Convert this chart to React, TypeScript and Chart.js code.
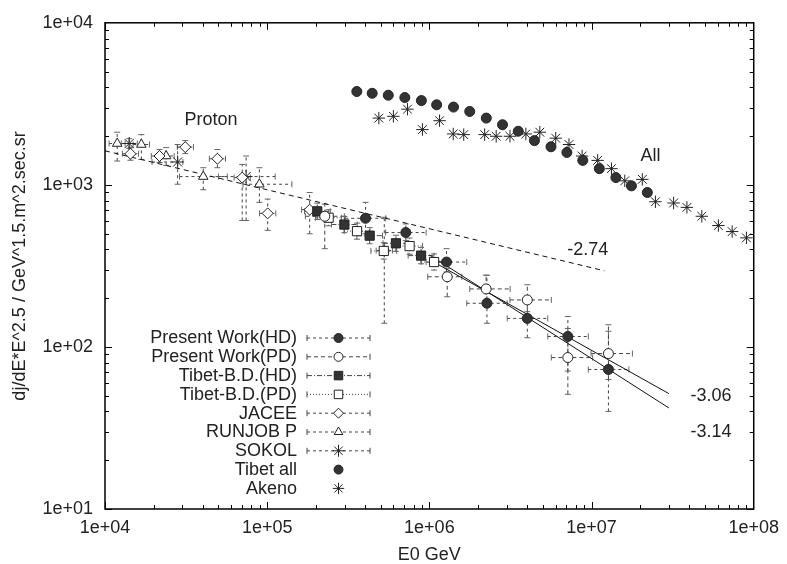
import React, { useEffect, useRef } from 'react';
import { Chart, registerables } from 'chart.js';
import { drawPoint } from 'chart.js/helpers';

Chart.register(...registerables);

// ---------- axis ticks ----------
const xTickValues = [1e4, 1e5, 1e6, 1e7, 1e8];
const xTickLabels = ['1e+04', '1e+05', '1e+06', '1e+07', '1e+08'];
const yTickValues = [1e1, 1e2, 1e3, 1e4];
const yTickLabels = ['1e+01', '1e+02', '1e+03', '1e+04'];

// ---------- Present Work (HD) ----------
const pwHdX = [4.04e5, 7.16e5, 1.276e6, 2.265e6, 4.018e6, 7.145e6, 1.271e7];
const pwHdY = [622, 508, 334, 186, 150, 116, 72.6];
const pwHdXLo = [3.03e5, 5.37e5, 9.55e5, 1.70e6, 3.02e6, 5.37e6, 9.55e6];
const pwHdXHi = [5.38e5, 9.55e5, 1.70e6, 3.02e6, 5.37e6, 9.55e6, 1.70e7];
const pwHdYLo = [499, 454, 290, 140, 114, 71, 40];
const pwHdYHi = [780, 574, 404, 277, 190, 154, 125];

// ---------- Present Work (PD) ----------
const pwPdX = [2.265e5, 1.288e6, 2.239e6, 4.018e6, 7.145e6, 1.271e7];
const pwPdY = [640, 271, 228, 195, 86, 91];
const pwPdXLo = [1.72e5, 9.77e5, 1.774e6, 3.14e6, 5.65e6, 9.93e6];
const pwPdXHi = [2.99e5, 1.585e6, 3.148e6, 5.65e6, 1.016e7, 1.786e7];
const pwPdYLo = [404, 204, 190, 165, 51, 63];
const pwPdYHi = [760, 304, 277, 242, 130, 137];

// ---------- Tibet-B.D. (HD) ----------
const bdHdX = [2.037e5, 2.992e5, 4.285e5, 6.223e5, 8.89e5];
const bdHdY = [687, 569, 486, 436, 366];
const bdHdXLo = [1.70e5, 2.49e5, 3.57e5, 5.18e5, 7.40e5];
const bdHdXHi = [2.45e5, 3.59e5, 5.14e5, 7.47e5, 1.067e6];
const bdHdYLo = [612, 507, 433, 389, 326];
const bdHdYHi = [771, 638, 545, 489, 411];

// ---------- Tibet-B.D. (PD) ----------
const bdPdX = [2.393e5, 3.581e5, 5.236e5, 7.551e5, 1.069e6];
const bdPdY = [627, 518, 391, 419, 334];
const bdPdXLo = [1.99e5, 2.98e5, 4.36e5, 6.28e5, 8.90e5];
const bdPdXHi = [2.87e5, 4.30e5, 6.29e5, 9.07e5, 1.283e6];
const bdPdYLo = [559, 462, 348, 373, 298];
const bdPdYHi = [703, 581, 439, 470, 375];

// ---------- JACEE ----------
const jaceeX = [1.435e4, 2.168e4, 3.126e4, 4.932e4, 7.015e4, 1.007e5, 1.828e5, 5.272e5];
const jaceeY = [1556, 1507, 1710, 1449, 1109, 667, 703, 393];
const jaceeXLo = [1.28e4, 1.93e4, 2.79e4, 4.40e4, 6.25e4, 8.97e4, 1.63e5, 4.70e5];
const jaceeXHi = [1.61e4, 2.43e4, 3.51e4, 5.53e4, 7.87e4, 1.13e5, 2.05e5, 5.92e5];
const jaceeYLo = [1419, 1374, 1559, 1276, 603, 524, 499, 140];
const jaceeYHi = [1706, 1652, 1875, 1652, 1337, 817, 897, 631];

// ---------- RUNJOB P ----------
const runjobX = [1.189e4, 1.675e4, 2.382e4, 4.036e4, 8.954e4];
const runjobY = [1799, 1774, 1507, 1125, 1009];
const runjobXLo = [1.06e4, 1.49e4, 2.12e4, 2.88e4, 7.10e4];
const runjobXHi = [1.33e4, 1.88e4, 2.67e4, 5.68e4, 1.42e5];
const runjobYLo = [1403, 1435, 1318, 933, 780];
const runjobYHi = [2113, 2042, 1698, 1276, 1276];

// ---------- SOKOL ----------
const sokolX = [1.409e4, 2.805e4, 7.413e4];
const sokolY = [1799, 1384, 1125];
const sokolXLo = [1.26e4, 1.95e4, 5.01e4];
const sokolXHi = [1.58e4, 3.02e4, 1.12e5];
const sokolYLo = [1679, 1009, 603];
const sokolYHi = [1928, 1774, 1507];

// ---------- Tibet all ----------
const tibetAllX = [3.57e5, 4.44e5, 5.58e5, 7.06e5, 8.93e5, 1.109e6, 1.409e6, 1.774e6, 2.244e6, 2.825e6,
  3.532e6, 4.446e6, 5.623e6, 7.047e6, 8.831e6, 1.117e7, 1.413e7, 1.762e7, 2.208e7];
const tibetAllY = [3767, 3673, 3573, 3459, 3311, 3119, 3020, 2838, 2582, 2350,
  2143, 1875, 1718, 1585, 1416, 1259, 1109, 986, 897];

// ---------- Akeno ----------
const akenoX = [4.88e5, 6.0e5, 7.33e5, 9.06e5, 1.156e6, 1.403e6, 1.629e6, 2.193e6, 2.582e6, 3.141e6,
  3.936e6, 4.797e6, 6.012e6, 7.261e6, 8.75e6, 1.091e7, 1.327e7, 1.603e7, 2.056e7, 2.477e7,
  3.206e7, 3.873e7, 4.786e7, 6.053e7, 7.362e7, 9.016e7];
const akenoY = [2582, 2649, 2931, 2193, 2489, 2061, 2042, 2042, 1995, 1995,
  2061, 2113, 1941, 1774, 1507, 1416, 1259, 1059, 1081, 787,
  773, 726, 640, 561, 515, 471];

// ---------- power-law fit lines ----------
const fit274X = [1e4, 1.2e7];
const fit274Y = [1622, 295];
const fit306X = [1e6, 3e7];
const fit306Y = [346, 51.5];
const fit314X = [1e6, 3e7];
const fit314Y = [370, 42.0];

// ---------- text labels (data coordinates) ----------
const noteText = ['Proton', 'All', '-2.74', '-3.06', '-3.14'];
const noteX = [4.5e4, 2.31e7, 9.48e6, 5.46e7, 5.46e7];
const noteY = [2500, 1514, 394, 49.9, 29.7];

const FONT = '"Liberation Sans", Arial, sans-serif';
const FS = 18;
const INK = '#222';
const FILL = '#333';

type Series = {
  label: string;
  x: number[];
  y: number[];
  xlo?: number[];
  xhi?: number[];
  ylo?: number[];
  yhi?: number[];
  style: string;
  filled: boolean;
  r: number;
  dash?: number[];
};

const series: Series[] = [
  { label: 'Present Work(HD)', x: pwHdX, y: pwHdY, xlo: pwHdXLo, xhi: pwHdXHi, ylo: pwHdYLo, yhi: pwHdYHi, style: 'circle', filled: true, r: 5, dash: [3, 3] },
  { label: 'Present Work(PD)', x: pwPdX, y: pwPdY, xlo: pwPdXLo, xhi: pwPdXHi, ylo: pwPdYLo, yhi: pwPdYHi, style: 'circle', filled: false, r: 5, dash: [4, 3] },
  { label: 'Tibet-B.D.(HD)', x: bdHdX, y: bdHdY, xlo: bdHdXLo, xhi: bdHdXHi, ylo: bdHdYLo, yhi: bdHdYHi, style: 'rect', filled: true, r: 6.5, dash: [5, 2, 1, 2] },
  { label: 'Tibet-B.D.(PD)', x: bdPdX, y: bdPdY, xlo: bdPdXLo, xhi: bdPdXHi, ylo: bdPdYLo, yhi: bdPdYHi, style: 'rect', filled: false, r: 6.5, dash: [1, 2] },
  { label: 'JACEE', x: jaceeX, y: jaceeY, xlo: jaceeXLo, xhi: jaceeXHi, ylo: jaceeYLo, yhi: jaceeYHi, style: 'rectRot', filled: false, r: 5.5, dash: [3, 3] },
  { label: 'RUNJOB P', x: runjobX, y: runjobY, xlo: runjobXLo, xhi: runjobXHi, ylo: runjobYLo, yhi: runjobYHi, style: 'triangle', filled: false, r: 5.5, dash: [3, 3] },
  { label: 'SOKOL', x: sokolX, y: sokolY, xlo: sokolXLo, xhi: sokolXHi, ylo: sokolYLo, yhi: sokolYHi, style: 'star', filled: false, r: 6.5, dash: [3, 3] },
  { label: 'Tibet all', x: tibetAllX, y: tibetAllY, style: 'circle', filled: true, r: 5 },
  { label: 'Akeno', x: akenoX, y: akenoY, style: 'star', filled: false, r: 6.2 },
];

const fits = [
  { x: fit274X, y: fit274Y, dash: [5, 4] },
  { x: fit306X, y: fit306Y, dash: [] as number[] },
  { x: fit314X, y: fit314Y, dash: [] as number[] },
];

function line(ctx: CanvasRenderingContext2D, x1: number, y1: number, x2: number, y2: number) {
  ctx.beginPath();
  ctx.moveTo(x1, y1);
  ctx.lineTo(x2, y2);
  ctx.stroke();
}

const errorBarPlugin = {
  id: 'errorBars',
  beforeDatasetsDraw(chart: any) {
    const { ctx, chartArea: a } = chart;
    const xs = chart.scales.x;
    const ys = chart.scales.y;
    ctx.save();
    ctx.beginPath();
    ctx.rect(a.left, a.top, a.right - a.left, a.bottom - a.top);
    ctx.clip();
    ctx.lineWidth = 1;
    series.forEach((s) => {
      if (!s.xlo) return;
      s.x.forEach((xv, i) => {
        const px = xs.getPixelForValue(xv);
        const py = ys.getPixelForValue(s.y[i]);
        const x0 = xs.getPixelForValue(s.xlo![i]);
        const x1 = xs.getPixelForValue(s.xhi![i]);
        const y0 = ys.getPixelForValue(s.ylo![i]);
        const y1 = ys.getPixelForValue(s.yhi![i]);
        ctx.strokeStyle = '#444';
        ctx.setLineDash(s.dash || [3, 3]);
        line(ctx, x0, py, x1, py);
        line(ctx, px, y0, px, y1);
        ctx.setLineDash([]);
        ctx.strokeStyle = '#666';
        line(ctx, x0, py - 3, x0, py + 3);
        line(ctx, x1, py - 3, x1, py + 3);
        line(ctx, px - 3, y0, px + 3, y0);
        line(ctx, px - 3, y1, px + 3, y1);
      });
    });
    ctx.restore();
  },
};

const framePlugin = {
  id: 'frame',
  afterDraw(chart: any) {
    const { ctx, chartArea: a } = chart;
    const xs = chart.scales.x;
    const ys = chart.scales.y;
    ctx.save();
    ctx.strokeStyle = '#000';
    ctx.lineWidth = 1;
    ctx.setLineDash([]);
    for (let e = 4; e < 8; e++) {
      for (let m = 1; m <= 9; m++) {
        const v = m * Math.pow(10, e);
        const px = Math.round(xs.getPixelForValue(v)) + 0.5;
        const len = m === 1 ? 7 : 4;
        line(ctx, px, a.bottom, px, a.bottom - len);
        line(ctx, px, a.top, px, a.top + len);
      }
    }
    for (let e = 1; e < 4; e++) {
      for (let m = 1; m <= 9; m++) {
        const v = m * Math.pow(10, e);
        const py = Math.round(ys.getPixelForValue(v)) + 0.5;
        const len = m === 1 ? 7 : 4;
        line(ctx, a.left, py, a.left + len, py);
        line(ctx, a.right, py, a.right - len, py);
      }
    }
    ctx.lineWidth = 1.5;
    ctx.strokeRect(a.left, a.top, a.right - a.left, a.bottom - a.top);

    // notes
    ctx.fillStyle = INK;
    ctx.font = `${FS}px ${FONT}`;
    ctx.textAlign = 'center';
    ctx.textBaseline = 'middle';
    noteText.forEach((t, i) => {
      ctx.fillText(t, xs.getPixelForValue(noteX[i]), ys.getPixelForValue(noteY[i]));
    });

    // legend (key)
    const textRight = a.left + 192;
    const sx0 = a.left + 202;
    const sx1 = a.left + 265;
    const sxm = (sx0 + sx1) / 2;
    const rowH = 18.8;
    const row0 = a.bottom - 171;
    ctx.textAlign = 'right';
    series.forEach((s, i) => {
      const yy = row0 + i * rowH;
      ctx.fillStyle = INK;
      ctx.fillText(s.label, textRight, yy + 0.5);
      if (s.xlo) {
        ctx.strokeStyle = '#444';
        ctx.lineWidth = 1;
        ctx.setLineDash(s.dash || [3, 3]);
        line(ctx, sx0, yy, sx1, yy);
        ctx.setLineDash([]);
        line(ctx, sx0, yy - 3, sx0, yy + 3);
        line(ctx, sx1, yy - 3, sx1, yy + 3);
      }
      ctx.fillStyle = s.filled ? FILL : '#fff';
      ctx.strokeStyle = INK;
      ctx.lineWidth = 1;
      drawPoint(ctx, { pointStyle: s.style as any, radius: s.r - 0.5, rotation: 0, borderWidth: 1 } as any, sxm, yy);
    });
    ctx.restore();
  },
};

export default function App() {
  const ref = useRef<HTMLCanvasElement>(null);
  useEffect(() => {
    document.body.style.margin = '0';
    const canvas = ref.current!;
    const datasets: any[] = [];
    series.forEach((s) => {
      datasets.push({
        label: s.label,
        data: s.x.map((v, i) => ({ x: v, y: s.y[i] })),
        pointStyle: s.style,
        pointRadius: s.r,
        pointBorderWidth: 1,
        pointBackgroundColor: s.filled ? FILL : 'rgba(255,255,255,1)',
        pointBorderColor: INK,
        showLine: false,
      });
    });
    fits.forEach((f) => {
      datasets.push({
        label: '',
        data: f.x.map((v, i) => ({ x: v, y: f.y[i] })),
        showLine: true,
        pointRadius: 0,
        borderColor: '#111',
        borderWidth: 1,
        borderDash: f.dash,
        fill: false,
      });
    });
    const chart = new Chart(canvas, {
      type: 'scatter',
      data: { datasets },
      plugins: [errorBarPlugin, framePlugin],
      options: {
        animation: false,
        responsive: false,
        devicePixelRatio: 1,
        layout: { padding: { top: 19, right: 28, left: 0, bottom: 0 } },
        plugins: { legend: { display: false }, tooltip: { enabled: false } },
        scales: {
          x: {
            type: 'logarithmic',
            min: 1e4,
            max: 1e8,
            grid: { display: false, drawTicks: false },
            border: { display: false },
            afterBuildTicks: (scale: any) => {
              scale.ticks = xTickValues.map((v) => ({ value: v }));
            },
            afterFit: (scale: any) => {
              scale.height = 55;
            },
            ticks: {
              autoSkip: false,
              maxRotation: 0,
              padding: 8,
              color: INK,
              font: { family: FONT, size: FS },
              callback: (_v: any, i: number) => xTickLabels[i],
            },
            title: {
              display: true,
              text: 'E0 GeV',
              color: INK,
              font: { family: FONT, size: FS, lineHeight: 1.0 },
              padding: { top: 0, bottom: 0 },
            },
          },
          y: {
            type: 'logarithmic',
            min: 10,
            max: 1e4,
            grid: { display: false, drawTicks: false },
            border: { display: false },
            afterBuildTicks: (scale: any) => {
              scale.ticks = yTickValues.map((v) => ({ value: v }));
            },
            afterFit: (scale: any) => {
              scale.width = 105;
            },
            ticks: {
              autoSkip: false,
              padding: 12,
              color: INK,
              font: { family: FONT, size: FS },
              callback: (_v: any, i: number) => yTickLabels[i],
            },
            title: {
              display: true,
              text: 'dj/dE*E^2.5 / GeV^1.5.m^2.sec.sr',
              color: INK,
              font: { family: FONT, size: FS },
              padding: { top: 9, bottom: 0 },
            },
          },
        },
      } as any,
    });
    return () => chart.destroy();
  }, []);
  return (
    <div style={{ width: 787, height: 564, background: '#fff' }}>
      <canvas ref={ref} width={787} height={564} />
    </div>
  );
}
